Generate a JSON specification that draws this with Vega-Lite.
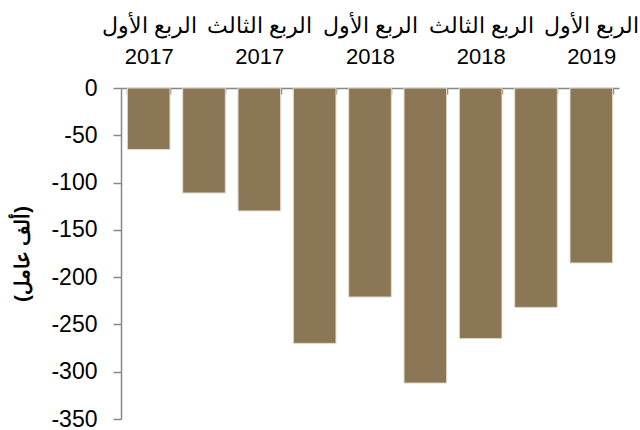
{
  "$schema": "https://vega.github.io/schema/vega-lite/v6.json",
  "width": 498,
  "height": 331,
  "autosize": {"type": "none"},
  "padding": {"left": 121, "top": 88, "right": 21, "bottom": 11},
  "background": "white",
  "config": {"view": {"stroke": null}, "font": "Liberation Sans"},
  "data": {
    "values": [
      {"quarter": "الربع الأول 2017", "value": -65},
      {"quarter": "الربع الثاني 2017", "value": -111},
      {"quarter": "الربع الثالث 2017", "value": -130},
      {"quarter": "الربع الرابع 2017", "value": -270},
      {"quarter": "الربع الأول 2018", "value": -221},
      {"quarter": "الربع الثاني 2018", "value": -312},
      {"quarter": "الربع الثالث 2018", "value": -265},
      {"quarter": "الربع الرابع 2018", "value": -232},
      {"quarter": "الربع الأول 2019", "value": -185}
    ]
  },
  "mark": {"type": "bar", "color": "#8B7755", "stroke": "#E2DACB", "strokeWidth": 1},
  "encoding": {
    "x": {
      "field": "quarter",
      "type": "nominal",
      "sort": null,
      "scale": {"paddingInner": 0.23, "paddingOuter": 0.115},
      "axis": {
        "orient": "top",
        "title": null,
        "labelAngle": 0,
        "labelFont": "Liberation Sans",
        "labelFontSize": 22,
        "labelColor": "#000000",
        "labelLimit": 300,
        "labelOverlap": false,
        "labelLineHeight": 31.5,
        "labelBaseline": "alphabetic",
        "labelPadding": 62,
        "labelExpr": "(indexof(datum.label,'الثاني')>=0 || indexof(datum.label,'الرابع')>=0) ? '' : [substring(datum.label,0,length(datum.label)-5), substring(datum.label,length(datum.label)-4)]",
        "tickBand": "extent",
        "tickSize": -6,
        "tickColor": "#888888",
        "tickWidth": 1.5,
        "domainColor": "#888888",
        "domainWidth": 1.5,
        "grid": false
      }
    },
    "y": {
      "field": "value",
      "type": "quantitative",
      "scale": {"domain": [-350, 0], "nice": false},
      "axis": {
        "title": "(ألف عامل)",
        "titleFont": "Liberation Sans",
        "titleFontSize": 20,
        "titleFontWeight": "bold",
        "titleColor": "#000000",
        "titlePadding": 18,
        "values": [0, -50, -100, -150, -200, -250, -300, -350],
        "labelExpr": "replace(datum.label,'−','-')",
        "labelFont": "Liberation Sans",
        "labelFontSize": 23,
        "labelColor": "#000000",
        "labelPadding": 16,
        "tickSize": 8,
        "tickColor": "#888888",
        "tickWidth": 1.5,
        "domainColor": "#888888",
        "domainWidth": 1.5,
        "grid": false
      }
    }
  }
}
